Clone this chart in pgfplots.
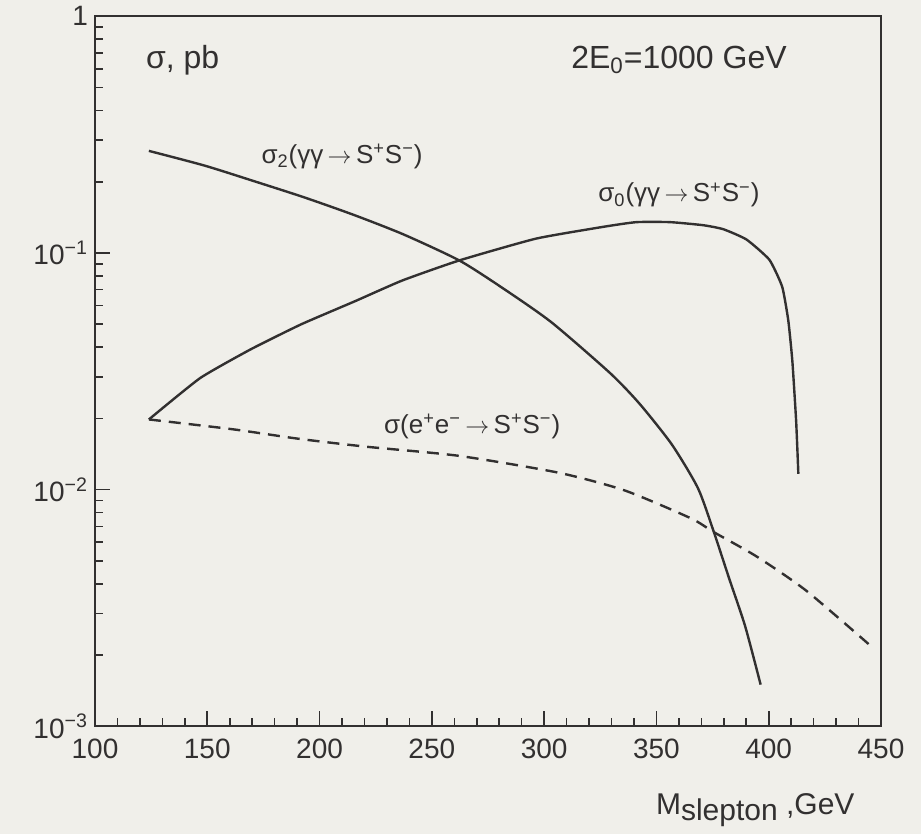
\documentclass[border=0pt]{standalone}
\usepackage{pgfplots}
\pgfplotsset{compat=1.18}
\usepackage{fontspec}
\setmainfont{Liberation Sans}
\definecolor{ink}{RGB}{50,48,48}
\definecolor{paper}{RGB}{240,239,234}
\pagecolor{paper}

% sigma_2(gamma gamma -> S+S-)
\pgfplotstableread{
x y
124   0.270
148.8 0.234
170.9 0.201
193.0 0.172
215.1 0.145
237.2 0.120
262.2 0.0930
281.3 0.0713
303.2 0.0510
329.5 0.0310
342.6 0.0230
356.9 0.0155
368.5 0.01014
375.6 0.00661
382.4 0.00421
389.5 0.00265
396.4 0.00150
}\sigtwo

% sigma_0(gamma gamma -> S+S-)
\pgfplotstableread{
x y
124   0.0198
146.8 0.0296
169.4 0.0392
191.9 0.0500
215.7 0.0625
236.8 0.0765
262.2 0.0930
296.4 0.115
326.4 0.129
341.1 0.135
356.1 0.135
370.9 0.131
379.8 0.126
390.1 0.114
400.3 0.0936
406.0 0.0720
408.7 0.0520
410.5 0.0352
412.2 0.0196
413.2 0.01167
}\sigzero

% sigma(e+e- -> S+S-)
\pgfplotstableread{
x y
124   0.0198
161.2 0.0180
190.8 0.0164
220.4 0.0152
261.9 0.0139
306.3 0.0118
335.8 0.00993
365.3 0.00757
375.6 0.00661
394.6 0.00522
416.6 0.00375
445.1 0.00220
}\sigee

\newcommand{\arr}{\,$\rightarrow$\,}

\begin{document}
\begin{tikzpicture}
\begin{axis}[
  name=ax,
  width=393pt, height=355pt, scale only axis,
  xmin=100, xmax=450, ymin=1e-3, ymax=1,
  ymode=log,
  xtick={100,150,...,450},
  minor x tick num=4,
  ytick={1e-3,1e-2,1e-1,1},
  yticklabels={10\textsuperscript{−3},10\textsuperscript{−2},10\textsuperscript{−1},1},
  minor ytick={0.002,0.003,0.004,0.005,0.006,0.007,0.008,0.009,
               0.02,0.03,0.04,0.05,0.06,0.07,0.08,0.09,
               0.2,0.3,0.4,0.5,0.6,0.7,0.8,0.9},
  xtick pos=bottom, ytick pos=left,
  tick align=inside,
  major tick length=7.5pt, minor tick length=4pt,
  axis line style={ink, line width=1pt},
  every tick/.style={ink, line width=0.8pt},
  tick label style={font=\fontsize{14}{14}\selectfont, text=ink},
  xticklabel style={yshift=-3pt},
  /pgf/number format/assume math mode=true,
  xlabel={M\raisebox{-0.4ex}{slepton} ,GeV},
  x label style={at={(axis description cs:0.84,0)}, anchor=north, yshift=-30pt,
                 font=\fontsize{15}{15}\selectfont, text=ink},
  clip=false,
]
\addplot[ink, line width=1.2pt, smooth, tension=0.4] table {\sigtwo};
\addplot[ink, line width=1.2pt, smooth, tension=0.3] table {\sigzero};
\addplot[ink, line width=1.2pt, dash pattern=on 6pt off 4pt, smooth, tension=0.4] table {\sigee};

\node[anchor=west, text=ink, font=\fontsize{16}{16}\selectfont] at (rel axis cs:0.056,0.938) {σ, pb};
\node[anchor=center, text=ink, font=\fontsize{16}{16}\selectfont] at (rel axis cs:0.743,0.938) {2E\textsubscript{0}=1000 GeV};
\node[anchor=west, text=ink, font=\fontsize{13}{13}\selectfont] at (axis cs:171,0.256) {σ\textsubscript{2}(γγ\arr S\textsuperscript{+}S\textsuperscript{−})};
\node[anchor=west, text=ink, font=\fontsize{13}{13}\selectfont] at (axis cs:321,0.176) {σ\textsubscript{0}(γγ\arr S\textsuperscript{+}S\textsuperscript{−})};
\node[anchor=west, text=ink, font=\fontsize{13}{13}\selectfont] at (axis cs:225.6,0.0185) {σ(e\textsuperscript{+}e\textsuperscript{−}\arr S\textsuperscript{+}S\textsuperscript{−})};
\end{axis}
\path ([xshift=-47.5pt,yshift=-53pt]ax.south west) rectangle ([xshift=20pt,yshift=7.5pt]ax.north east);
\end{tikzpicture}
\end{document}
